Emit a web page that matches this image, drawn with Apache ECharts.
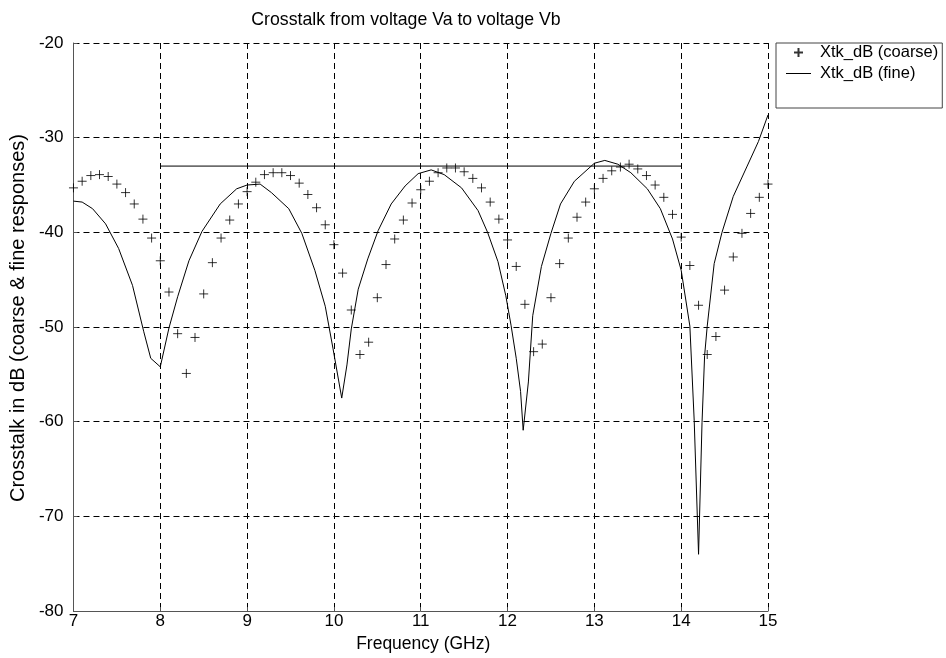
<!DOCTYPE html>
<html>
<head>
<meta charset="utf-8">
<script src="https://cdn.jsdelivr.net/npm/echarts@6/dist/echarts.min.js"></script>
<style>html,body{margin:0;padding:0;background:#fff}#chart{width:946px;height:658px}</style>
</head>
<body>
<div id="chart"></div>
<script>
var titleText = 'Crosstalk from voltage Va to voltage Vb';
var xAxisName = 'Frequency (GHz)';
var yAxisName = 'Crosstalk in dB (coarse & fine responses)';
var coarseName = 'Xtk_dB (coarse)';
var fineName = 'Xtk_dB (fine)';

var coarseFreq = [7.0,7.1,7.2,7.3,7.4,7.5,7.6,7.7,7.8,7.9,8.0,8.1,8.2,8.3,8.4,8.5,8.6,8.7,8.8,8.9,
  9.0,9.1,9.2,9.3,9.4,9.5,9.6,9.7,9.8,9.9,10.0,10.1,10.2,10.3,10.4,10.5,10.6,10.7,10.8,10.9,
  11.0,11.1,11.2,11.3,11.4,11.5,11.6,11.7,11.8,11.9,12.0,12.1,12.2,12.3,12.4,12.5,12.6,12.7,12.8,12.9,
  13.0,13.1,13.2,13.3,13.4,13.5,13.6,13.7,13.8,13.9,14.0,14.1,14.2,14.3,14.4,14.5,14.6,14.7,14.8,14.9,15.0];
var coarseDb = [-35.3,-34.6,-34.0,-33.9,-34.1,-34.9,-35.8,-37.0,-38.6,-40.6,-43.0,-46.3,-50.7,-54.9,-51.1,-46.5,-43.2,-40.6,-38.7,-37.0,
  -35.7,-34.7,-33.9,-33.7,-33.7,-34.0,-34.8,-36.0,-37.4,-39.2,-41.3,-44.3,-48.2,-52.9,-51.6,-46.9,-43.4,-40.7,-38.7,-36.9,
  -35.5,-34.6,-33.7,-33.2,-33.2,-33.6,-34.3,-35.3,-36.8,-38.6,-40.8,-43.6,-47.6,-52.6,-51.8,-46.9,-43.3,-40.6,-38.4,-36.8,
  -35.4,-34.3,-33.5,-33.1,-32.8,-33.3,-34.0,-35.0,-36.3,-38.1,-40.5,-43.5,-47.7,-52.9,-51.0,-46.1,-42.6,-40.1,-38.0,-36.3,-34.9];

var fineFreq = [7.0,7.1,7.22,7.37,7.52,7.68,7.81,7.89,8.0,8.1,8.2,8.33,8.48,8.69,8.88,9.0,9.15,9.28,9.48,9.63,
  9.78,9.9,9.99,10.09,10.15,10.2,10.28,10.39,10.51,10.66,10.82,10.97,11.12,11.27,11.47,11.66,11.77,11.89,11.98,12.04,
  12.1,12.15,12.18,12.24,12.29,12.39,12.5,12.61,12.77,13.0,13.12,13.27,13.42,13.61,13.76,13.9,14.0,14.1,14.15,14.2,
  14.24,14.27,14.3,14.38,14.47,14.6,14.76,14.89,15.0];
var fineDb = [-36.7,-36.8,-37.5,-39.1,-41.7,-45.6,-50.5,-53.3,-54.2,-50.1,-46.8,-43.0,-39.9,-37.0,-35.4,-35.0,-34.9,-35.8,-37.5,-40.1,
  -44.0,-47.8,-52.3,-57.5,-54.0,-50.2,-46.0,-42.8,-39.8,-37.0,-35.1,-33.8,-33.4,-33.9,-35.3,-37.7,-40.0,-43.1,-46.7,-49.8,
  -53.3,-56.8,-60.9,-55.8,-48.8,-43.6,-40.1,-37.0,-34.6,-32.7,-32.4,-32.8,-33.7,-35.4,-37.5,-40.7,-44.0,-49.9,-59.9,-74.0,
  -60.1,-53.0,-49.9,-43.3,-40.0,-36.2,-33.0,-30.4,-27.6];

var specFreq = [8, 14];
var specDb = [-33, -33];

var xTicks = {min: 7, max: 15, step: 1};
var yTicks = {min: -80, max: -20, step: 10};

function pairs(xs, ys){ return xs.map(function(x,i){ return [x, ys[i]]; }); }

var font = 'Liberation Sans, Arial, Helvetica, sans-serif';
var chart = echarts.init(document.getElementById('chart'), null, {renderer: 'canvas'});
var gridLine = {show: true, lineStyle: {color: '#000', width: 1, type: [6, 4]}};
chart.setOption({
  animation: false,
  backgroundColor: '#fff',
  textStyle: {fontFamily: font},
  title: {
    text: titleText, left: 401, top: 6, textAlign: 'center',
    textStyle: {fontSize: 17.7, fontWeight: 'normal', color: '#000', fontFamily: font}
  },
  legend: {
    orient: 'vertical', left: 776, top: 43,
    padding: [1, 4, 26, 10], itemGap: 4, itemWidth: 25, itemHeight: 9,
    borderColor: '#444', borderWidth: 1, backgroundColor: '#fff',
    textStyle: {fontSize: 16.5, color: '#000', fontFamily: font, padding: [0, 0, 0, 4]},
    data: [
      {name: coarseName},
      {name: fineName, icon: 'path://M0,0L25,0L25,1L0,1Z',
       itemStyle: {color: '#000', borderWidth: 0}}
    ]
  },
  grid: {left: 71, right: 178, top: 43, bottom: 44, containLabel: false},
  xAxis: {
    type: 'value', min: xTicks.min, max: xTicks.max, interval: xTicks.step,
    name: xAxisName, nameLocation: 'middle', nameGap: 19,
    nameTextStyle: {fontSize: 17.5, color: '#000', fontFamily: font, padding: [0, 0, 0, 5]},
    axisLine: {show: true, onZero: false, lineStyle: {color: '#555', width: 1}},
    axisTick: {show: true, inside: true, length: 4, lineStyle: {color: '#555'}},
    axisLabel: {fontSize: 17, color: '#000', margin: 2, fontFamily: font},
    splitLine: gridLine
  },
  yAxis: {
    type: 'value', min: yTicks.min, max: yTicks.max, interval: yTicks.step,
    name: yAxisName, nameLocation: 'middle', nameGap: 41, nameRotate: 90,
    nameTextStyle: {fontSize: 20, color: '#000', fontFamily: font, padding: [0, 0, 0, 18]},
    axisLine: {show: true, onZero: false, lineStyle: {color: '#555', width: 1}},
    axisTick: {show: true, inside: true, length: 4, lineStyle: {color: '#555'}},
    axisLabel: {fontSize: 17, color: '#000', margin: 10, fontFamily: font},
    splitLine: gridLine
  },
  series: [
    {
      name: coarseName, type: 'scatter',
      symbol: 'path://M0,5 L10,5 M5,0 L5,10', symbolSize: 9,
      itemStyle: {color: 'rgba(0,0,0,0)', borderColor: '#000', borderWidth: 1},
      data: pairs(coarseFreq, coarseDb), z: 3
    },
    {
      name: fineName, type: 'line', symbol: 'none', showSymbol: false,
      lineStyle: {color: '#000', width: 1}, itemStyle: {color: '#000'},
      data: pairs(fineFreq, fineDb), z: 3
    },
    {
      name: 'spec', type: 'line', symbol: 'none', showSymbol: false,
      lineStyle: {color: '#000', width: 1}, data: pairs(specFreq, specDb), z: 3,
      silent: true
    }
  ]
});
</script>
</body>
</html>
